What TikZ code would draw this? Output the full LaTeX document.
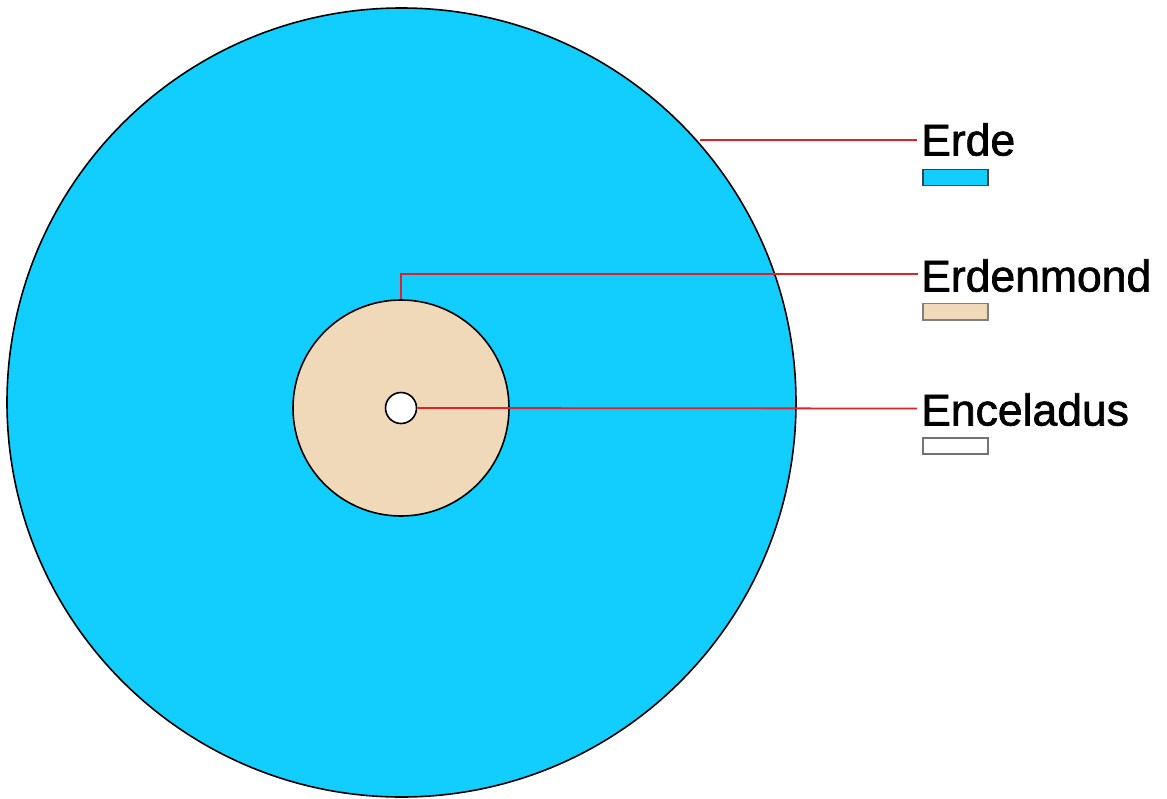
\documentclass[tikz,border=0pt]{standalone}
\usepackage{fontspec}
\setmainfont{Liberation Sans}[FakeBold=1.5]
\definecolor{earthblue}{RGB}{18,206,255}
\definecolor{moonbeige}{RGB}{240,217,185}
\definecolor{leader}{RGB}{230,30,40}
\tikzset{
  body/.style={draw=black, line width=1.6pt},
  leaderline/.style={draw=leader, line width=1.8pt},
  label/.style={anchor=base west, inner sep=0pt, font=\fontsize{44.5}{50}\selectfont},
  swatch/.style={line width=1.2pt}
}
\begin{document}
\begin{tikzpicture}[x=1pt,y=-1pt]
\useasboundingbox (0,0) rectangle (1167,798);
% bodies
\node[body, circle, fill=earthblue, minimum size=789pt, inner sep=0pt] (erde) at (401.5,402.5) {};
\node[body, circle, fill=moonbeige, minimum size=216pt, inner sep=0pt] (mond) at (401,408) {};
\node[body, circle, fill=white, minimum size=31pt, inner sep=0pt] (enc) at (401,408) {};
% labels
\node[label] (lerde) at (921,155.5) {Erde};
\node[label] (lmond) at (921,291.5) {Erdenmond};
\node[label] (lenc) at (921,425.5) {Enceladus};
% swatches
\draw[swatch, draw=black!75, fill=earthblue] (923,169.5) rectangle (988,185.5);
\draw[swatch, draw=black!50, fill=moonbeige] (923,303.5) rectangle (988,320);
\draw[swatch, draw=black!55, fill=white] (923,438) rectangle (988,454);
% leader lines
\coordinate (erdeend) at (917,140);
\coordinate (mondend) at (917,274.3);
\coordinate (encend) at (917,408.5);
\draw[leaderline] (erde.41.7 |- erdeend) -- (erdeend);
\draw[leaderline] (mond.north) -- ++(0,-25) -| (mondend) -- (mondend);
\draw[leaderline] (enc.east) -- (encend);
\end{tikzpicture}
\end{document}
